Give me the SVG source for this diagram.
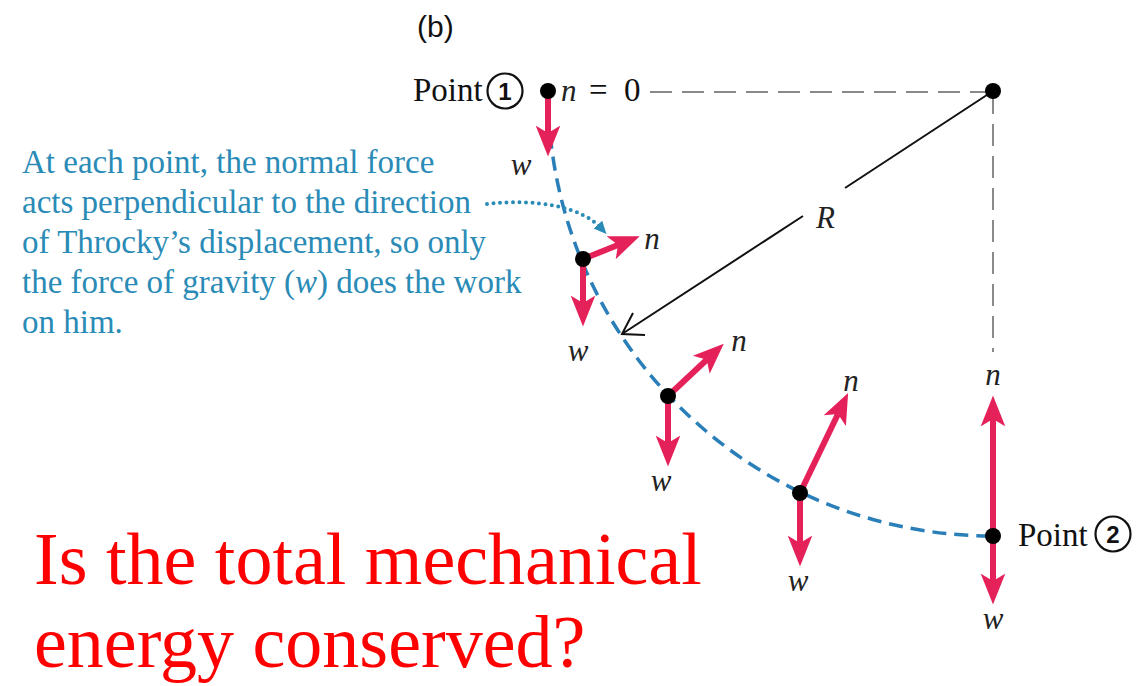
<svg xmlns="http://www.w3.org/2000/svg" width="1145" height="686" viewBox="0 0 1145 686">
<style>
.it{font-family:"Liberation Serif","Times New Roman",serif;font-style:italic;font-size:31px;fill:#222;}
.lbl{font-family:"Liberation Serif","Times New Roman",serif;font-size:33px;fill:#111;}
.num{font-family:"Liberation Sans",Arial,sans-serif;font-weight:bold;font-size:24px;fill:#111;}
.force{stroke:#e5215a;stroke-width:6;fill:none;marker-end:url(#rh);}
.dot{fill:#000;}
.blue{font-family:"Liberation Serif","Times New Roman",serif;font-size:33px;fill:#2a8bb6;}
.q{font-family:"Liberation Serif","Times New Roman",serif;font-size:74px;fill:#ff0000;}
</style>
<defs>
<marker id="rh" markerUnits="userSpaceOnUse" markerWidth="32" markerHeight="32" viewBox="0 -11 26 22" refX="6" refY="0" orient="auto">
<path d="M0,-10 L25,0 L0,10 L6,0 Z" fill="#e5215a"/>
</marker>
<marker id="bh" markerUnits="userSpaceOnUse" markerWidth="14" markerHeight="14" viewBox="0 -6 12 12" refX="4" refY="0" orient="auto">
<path d="M0,-5 L11,0 L0,5 Z" fill="#2a8bb6"/>
</marker>
</defs>

<text x="417" y="37" font-family="Liberation Sans, Arial, sans-serif" font-size="30" fill="#111">(b)</text>

<g id="guides">
<line x1="650" y1="92" x2="993" y2="92" stroke="#8a8a8a" stroke-width="2" stroke-dasharray="22 10"/>
<line x1="993" y1="92" x2="993" y2="352" stroke="#8a8a8a" stroke-width="2" stroke-dasharray="22 10"/>
</g>

<g id="connectors">
<path id="path-arc" d="M548,91 A445,445 0 0 0 993,536" fill="none" stroke="#2a7fb8" stroke-width="3.5" stroke-dasharray="14 8"/>
<path id="radius" d="M993,91 L845,188 M803,216 L622,334 M645,335 L622,334 L633,313" fill="none" stroke="#111" stroke-width="2"/>
<path id="pointer" d="M487,204 C535,198 582,207 601,228" fill="none" stroke="#2a8bb6" stroke-width="4" stroke-linecap="round" stroke-dasharray="0 6.5" marker-end="url(#bh)"/>
</g>

<g id="point1">
<line class="force" x1="548" y1="91" x2="548" y2="133"/>
<circle class="dot" cx="548" cy="91" r="8"/>
<text class="lbl" x="413" y="101">Point</text>
<circle cx="505" cy="91" r="17.5" fill="none" stroke="#111" stroke-width="2.2"/>
<text class="num" x="505" y="100" text-anchor="middle">1</text>
<text class="it" x="561" y="101">n</text>
<text class="lbl" x="589" y="101">=</text>
<text class="lbl" x="624" y="101">0</text>
<text class="it" x="521" y="175" text-anchor="middle">w</text>
</g>

<g id="pos-a">
<line class="force" x1="583" y1="259" x2="618" y2="245"/>
<line class="force" x1="583" y1="259" x2="583" y2="303"/>
<circle class="dot" cx="583" cy="259" r="8"/>
<text class="it" x="652" y="249" text-anchor="middle">n</text>
<text class="it" x="578" y="361" text-anchor="middle">w</text>
</g>

<g id="pos-b">
<line class="force" x1="668" y1="396" x2="706.7" y2="359.8"/>
<line class="force" x1="668" y1="396" x2="668" y2="443"/>
<circle class="dot" cx="668" cy="396" r="8"/>
<text class="it" x="739" y="351" text-anchor="middle">n</text>
<text class="it" x="661" y="491" text-anchor="middle">w</text>
</g>

<g id="pos-c">
<line class="force" x1="800" y1="493" x2="838" y2="414"/>
<line class="force" x1="800" y1="493" x2="800" y2="543"/>
<circle class="dot" cx="800" cy="493" r="8"/>
<text class="it" x="851" y="391" text-anchor="middle">n</text>
<text class="it" x="798" y="591" text-anchor="middle">w</text>
</g>

<g id="point2">
<line class="force" x1="993" y1="536" x2="993" y2="419"/>
<line class="force" x1="993" y1="536" x2="993" y2="581"/>
<circle class="dot" cx="993" cy="536" r="8"/>
<text class="it" x="993" y="385" text-anchor="middle">n</text>
<text class="it" x="993" y="629" text-anchor="middle">w</text>
<text class="lbl" x="1018" y="546">Point</text>
<circle cx="1113" cy="534" r="17.5" fill="none" stroke="#111" stroke-width="2.2"/>
<text class="num" x="1113" y="543" text-anchor="middle">2</text>
</g>

<g id="center">
<circle class="dot" cx="993" cy="91" r="8"/>
<text class="it" x="816" y="228" font-size="32">R</text>
</g>

<g id="note">
<text class="blue" x="22" y="173">At each point, the normal force</text>
<text class="blue" x="22" y="213">acts perpendicular to the direction</text>
<text class="blue" x="22" y="253">of Throcky’s displacement, so only</text>
<text class="blue" x="22" y="293">the force of gravity (<tspan font-style="italic">w</tspan>) does the work</text>
<text class="blue" x="22" y="333">on him.</text>
</g>

<g id="question">
<text class="q" x="34" y="584">Is the total mechanical</text>
<text class="q" x="34" y="667">energy conserved?</text>
</g>
</svg>
